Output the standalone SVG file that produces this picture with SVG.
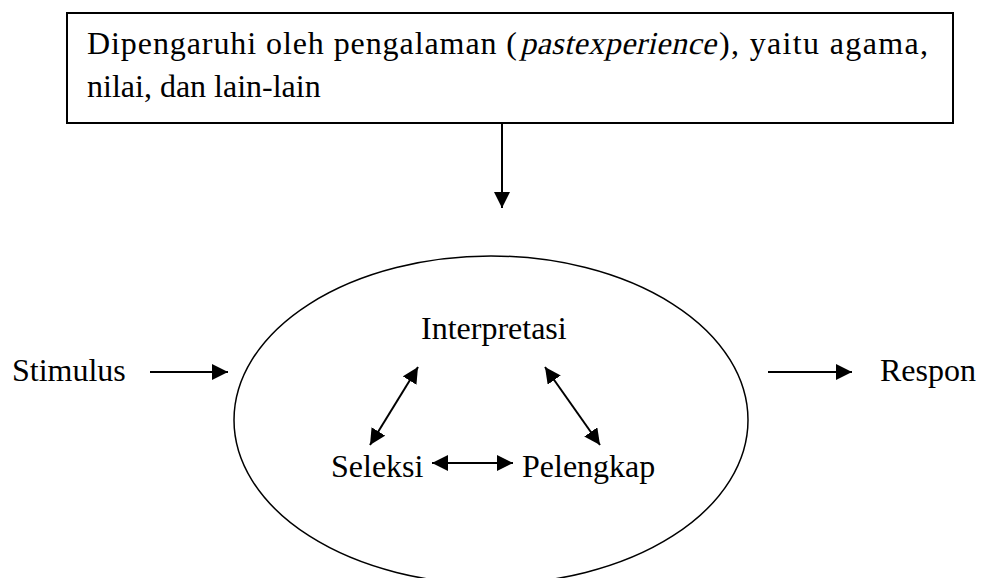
<svg xmlns="http://www.w3.org/2000/svg" width="981" height="578" viewBox="0 0 981 578">
<style>
  text { font-family: "Liberation Serif", serif; font-size: 32px; fill: #000; }
  .line { stroke: #000; stroke-width: 2; fill: none; }
</style>
<defs>
  <marker id="ah" markerUnits="userSpaceOnUse" markerWidth="16" markerHeight="16" viewBox="0 0 16 16" refX="16" refY="8" orient="auto-start-reverse">
    <path d="M0,0 L16,8 L0,16 Z" fill="#000"/>
  </marker>
</defs>
<rect width="981" height="578" fill="#fff"/>
<g id="box">
  <rect x="67" y="13" width="886" height="110" fill="#fff" stroke="#000" stroke-width="2"/>
  <text x="87" y="54" textLength="430" lengthAdjust="spacing">Dipengaruhi oleh pengalaman (</text>
  <text x="0" y="0" transform="translate(520,54) skewX(-13)" textLength="196" lengthAdjust="spacing">pastexperience</text>
  <text x="719" y="54" textLength="209" lengthAdjust="spacing">), yaitu agama,</text>
  <text x="87" y="97">nilai, dan lain-lain</text>
</g>
<g id="ellipse">
  <ellipse cx="491" cy="420" rx="257" ry="164" fill="none" stroke="#000" stroke-width="1.5"/>
</g>
<g id="stimulus"><text x="12" y="381">Stimulus</text></g>
<g id="respon"><text x="880" y="381">Respon</text></g>
<g id="interpretasi"><text x="421" y="339">Interpretasi</text></g>
<g id="seleksi"><text x="331" y="477">Seleksi</text></g>
<g id="pelengkap"><text x="522" y="477">Pelengkap</text></g>
<g id="connectors">
  <line class="line" x1="502" y1="123" x2="502" y2="208" marker-end="url(#ah)"/>
  <line class="line" x1="150" y1="372" x2="228" y2="372" marker-end="url(#ah)"/>
  <line class="line" x1="768" y1="372" x2="852" y2="372" marker-end="url(#ah)"/>
  <line class="line" x1="370" y1="445" x2="418" y2="367" marker-start="url(#ah)" marker-end="url(#ah)"/>
  <line class="line" x1="545" y1="367" x2="600" y2="445" marker-start="url(#ah)" marker-end="url(#ah)"/>
  <line class="line" x1="432" y1="463" x2="513" y2="463" marker-start="url(#ah)" marker-end="url(#ah)"/>
</g>
</svg>
